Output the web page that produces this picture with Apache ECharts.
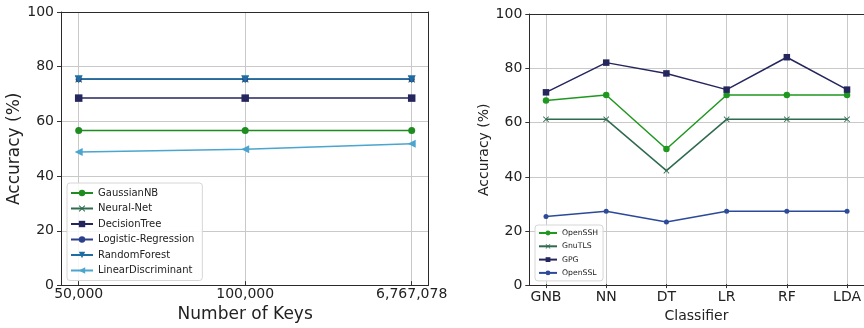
<!DOCTYPE html>
<html>
<head>
<meta charset="utf-8">
<script src="https://cdn.jsdelivr.net/npm/echarts@6/dist/echarts.min.js"></script>
<style>
html,body{margin:0;padding:0;background:#fff;}
#main{width:864px;height:328px;}
</style>
</head>
<body>
<div id="main"></div>
<script>
// left chart: accuracy vs number of keys
var keyLabels = ['50,000', '100,000', '6,767,078'];
var gaussianNB = [56, 56, 56];
var neuralNet = [75, 75, 75];
var decisionTree = [68, 68, 68];
var logisticReg = [75, 75, 75];
var randomForest = [75, 75, 75];
var linearDisc = [48, 49, 51];

// right chart: accuracy per classifier
var classifiers = ['GNB', 'NN', 'DT', 'LR', 'RF', 'LDA'];
var openSSH = [68, 70, 50, 70, 70, 70];
var gnuTLS = [61, 61, 42, 61, 61, 61];
var gpg = [71, 82, 78, 72, 84, 72];
var openSSL = [25, 27, 23, 27, 27, 27];

var FONT = 'DejaVu Sans';
var GRIDLINE = '#c9c9c9';
var FRAME = '#2a2a2a';
var crossPath = 'path://M1,0L5,4L9,0L10,1L6,5L10,9L9,10L5,6L1,10L0,9L4,5L0,1Z';

function frameY(gridIndex, nameGap, nameSize) {
	return {
		type: 'value', gridIndex: gridIndex, min: 0, max: 100, interval: 20, position: 'left',
		name: 'Accuracy (%)', nameLocation: 'middle', nameGap: nameGap,
		nameTextStyle: {fontFamily: FONT, fontSize: nameSize, color: '#222'},
		axisLine: {show: true, lineStyle: {color: FRAME, width: 1}},
		axisTick: {show: true, inside: false, length: 4, lineStyle: {color: '#333'}},
		axisLabel: {fontFamily: FONT, fontSize: 14, color: '#222', margin: 7},
		splitLine: {show: true, showMinLine: false, showMaxLine: false, lineStyle: {color: GRIDLINE, width: 1}}
	};
}
// plain edge of the frame (top / right / bottom)
function edge(gridIndex, position) {
	return {
		type: 'value', gridIndex: gridIndex, min: 0, max: 1, position: position,
		axisLine: {show: true, onZero: false, lineStyle: {color: FRAME, width: 1}},
		axisTick: {show: false}, axisLabel: {show: false}, splitLine: {show: false}
	};
}
function hiddenY(gridIndex) {
	return {
		type: 'value', gridIndex: gridIndex, min: 0, max: 100, interval: 20,
		axisLine: {show: false}, axisTick: {show: false}, axisLabel: {show: false},
		splitLine: {show: false}
	};
}
function catX(gridIndex, data, name, nameSize, nameGap) {
	return {
		type: 'category', gridIndex: gridIndex, data: data, boundaryGap: false,
		name: name, nameLocation: 'middle', nameGap: nameGap,
		nameTextStyle: {fontFamily: FONT, fontSize: nameSize, color: '#222'},
		axisLine: {show: false},
		axisTick: {show: true, inside: false, length: 4, alignWithLabel: true, lineStyle: {color: '#333'}},
		axisLabel: {fontFamily: FONT, fontSize: 14, color: '#222', margin: 6, interval: 0},
		splitLine: {show: true, interval: 0, lineStyle: {color: GRIDLINE, width: 1}}
	};
}
function mkLine(name, data, color, symbol, size, axis, extra) {
	var s = {
		name: name, type: 'line', data: data,
		xAxisIndex: axis, yAxisIndex: axis,
		symbol: symbol, symbolSize: size, showSymbol: true,
		lineStyle: {color: color, width: 1.5},
		itemStyle: {color: color, borderWidth: 0},
		emphasis: {disabled: true},
		animation: false
	};
	if (extra) {
		for (var k in extra) s[k] = extra[k];
	}
	return s;
}

var myChart = echarts.init(document.getElementById('main'));

// axis index layout:
// x: 0 inner-left(category), 1 inner-right(category), 2..5 frame edges
// y: 0 inner-left(hidden), 1 inner-right(hidden), 2 left frame, 3 right frame, 4..5 right edges
option = {
	backgroundColor: '#fff',
	grid: [
		{left: 78.7, right: 452.3, top: 12, bottom: 42.5},
		{left: 546, right: 10.7, top: 14, bottom: 42.5},
		{left: 61, right: 436, top: 12, bottom: 42.5},
		{left: 529.3, right: -4.7, top: 14, bottom: 42.5}
	],
	xAxis: [
		catX(0, keyLabels, 'Number of Keys', 17, 22),
		catX(1, classifiers, 'Classifier', 14, 22),
		edge(2, 'bottom'),
		edge(2, 'top'),
		edge(3, 'bottom'),
		edge(3, 'top')
	],
	yAxis: [
		hiddenY(0),
		hiddenY(1),
		frameY(2, 38, 17),
		frameY(3, 34, 14),
		edge(2, 'right'),
		edge(3, 'right')
	],
	legend: [
		{
			data: ['GaussianNB', 'Neural-Net', 'DecisionTree', 'Logistic-Regression', 'RandomForest', 'LinearDiscriminant'],
			orient: 'vertical', left: 67, top: 183,
			padding: [5, 8, 5, 3], itemWidth: 22, itemHeight: 8, itemGap: 5.5,
			backgroundColor: 'rgba(255,255,255,0.85)', borderColor: '#d6d6d6', borderWidth: 1, borderRadius: 3,
			textStyle: {fontFamily: FONT, fontSize: 10, color: '#222'}
		},
		{
			data: ['OpenSSH', 'GnuTLS', 'GPG', 'OpenSSL'],
			orient: 'vertical', left: 535, top: 225,
			padding: [4, 5, 4, 3], itemWidth: 18, itemHeight: 6, itemGap: 5.3,
			backgroundColor: 'rgba(255,255,255,0.85)', borderColor: '#d6d6d6', borderWidth: 1, borderRadius: 3,
			textStyle: {fontFamily: FONT, fontSize: 7.7, color: '#222'}
		}
	],
	series: [
		mkLine('GaussianNB', gaussianNB, '#1f8c1f', 'circle', 7, 0),
		mkLine('Neural-Net', neuralNet, '#2e6b4f', crossPath, 7, 0),
		mkLine('DecisionTree', decisionTree, '#26265f', 'rect', 7.5, 0),
		mkLine('Logistic-Regression', logisticReg, '#2b3f8a', 'circle', 6, 0),
		mkLine('RandomForest', randomForest, '#1f6ea3', 'triangle', 8, 0, {symbolRotate: 180}),
		mkLine('LinearDiscriminant', linearDisc, '#4aa5cf', 'triangle', 8, 0, {symbolRotate: 90}),

		mkLine('OpenSSH', openSSH, '#1f981f', 'circle', 6.5, 1),
		mkLine('GnuTLS', gnuTLS, '#2e6b4f', crossPath, 6, 1),
		mkLine('GPG', gpg, '#26265f', 'rect', 6.5, 1),
		mkLine('OpenSSL', openSSL, '#2b4a9a', 'circle', 5, 1)
	]
};
myChart.setOption(option);
</script>
</body>
</html>
